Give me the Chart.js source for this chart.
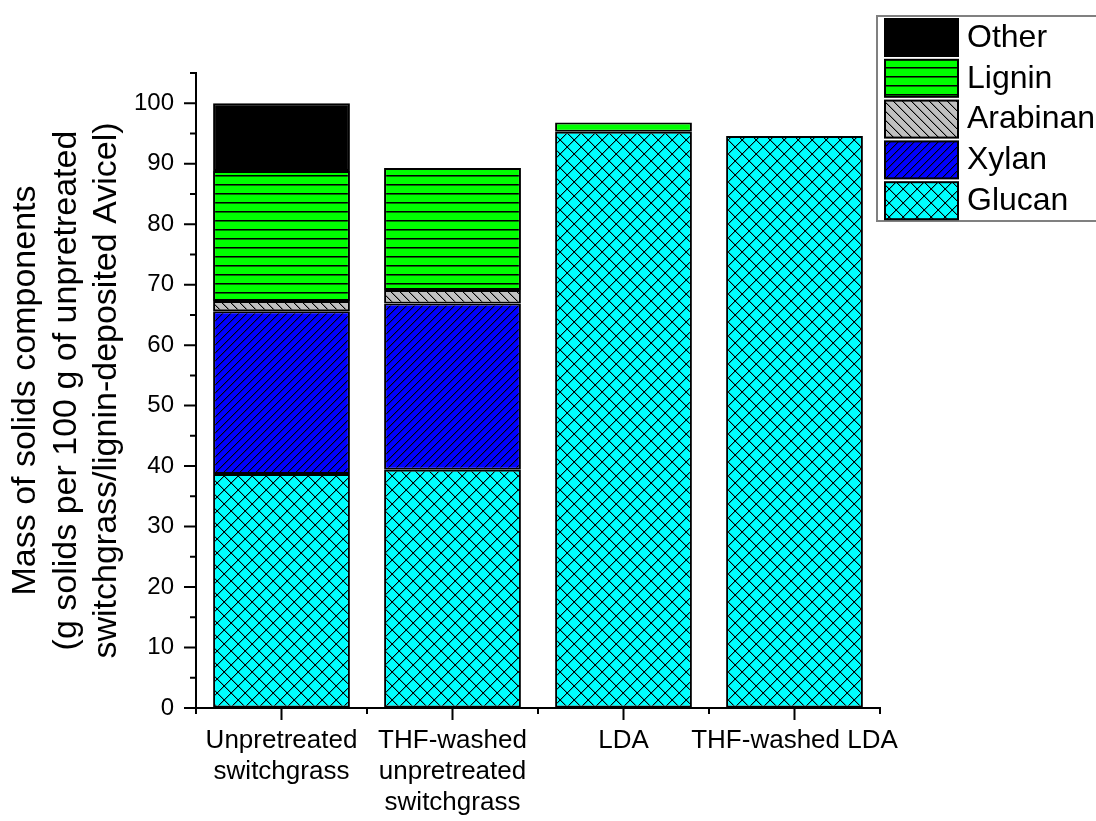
<!DOCTYPE html>
<html>
<head>
<meta charset="utf-8">
<script src="https://cdn.jsdelivr.net/npm/chart.js@4.4.1/dist/chart.umd.min.js"></script>
<style>
  html, body { margin: 0; padding: 0; background: #fff; }
  #wrap { width: 1096px; height: 821px; position: relative; }
</style>
</head>
<body>
<div id="wrap"><canvas id="grafiek"></canvas></div>
<script>
const categorieen = [['Unpretreated', 'switchgrass'], ['THF-washed', 'unpretreated', 'switchgrass'], 'LDA', 'THF-washed LDA'];
const glucan = [38.7, 39.4, 95.3, 94.6];
const xylan = [26.9, 27.5, null, null];
const arabinan = [1.7, 2.2, null, null];
const lignine = [21.5, 20.2, 1.5, null];
const overig = [11.2, null, null, null];
const yTicks = [0, 10, 20, 30, 40, 50, 60, 70, 80, 90, 100];
const yMinorTicks = [5, 15, 25, 35, 45, 55, 65, 75, 85, 95, 105];

const FONT = "'Liberation Sans', Arial, sans-serif";

// tegel met pixelscherpe lijnen
function arcering(kleur, maat, tekenLijnen) {
  const c = document.createElement('canvas');
  c.width = maat;
  c.height = maat;
  const g = c.getContext('2d');
  g.fillStyle = kleur;
  g.fillRect(0, 0, maat, maat);
  tekenLijnen(g, maat);
  return g.createPattern(c, 'repeat');
}

function schuinOmhoog(g, s) {
  for (let i = 0; i < s; i++) {
    g.fillStyle = 'rgba(0,0,0,0.3)';
    g.fillRect((i + 1) % s, s - 1 - i, 1, 1);
    g.fillStyle = '#000';
    g.fillRect(i, s - 1 - i, 1, 1);
  }
}

function schuinOmlaag(g, s) {
  for (let i = 0; i < s; i++) {
    g.fillStyle = 'rgba(0,0,0,0.3)';
    g.fillRect((i + 1) % s, i, 1, 1);
    g.fillStyle = '#000';
    g.fillRect(i, i, 1, 1);
  }
}

const patronen = {
  glucan: arcering('#00FFFF', 14, (g, s) => { schuinOmhoog(g, s); schuinOmlaag(g, s); }),
  xylan: arcering('#0000FF', 8, schuinOmhoog),
  arabinan: arcering('#C0C0C0', 9, schuinOmlaag),
  lignine: arcering('#00FF00', 9, (g, s) => {
    g.fillStyle = '#000';
    g.fillRect(0, 4, s, 1);
    g.fillStyle = '#007700';
    g.fillRect(0, 5, s, 1);
  }),
  overig: '#000000',
};

function reeks(label, waarden, vulling) {
  return {
    label,
    data: waarden,
    backgroundColor: vulling,
    borderColor: '#000',
    borderWidth: 2,
    borderSkipped: false,
    barPercentage: 0.8,
    categoryPercentage: 1.0,
  };
}

const assenPlugin = {
  id: 'assen',
  afterDraw(chart) {
    const ctx = chart.ctx;
    const { left, right, bottom } = chart.chartArea;
    const y = chart.scales.y;
    const x = chart.scales.x;
    ctx.save();
    ctx.strokeStyle = '#000';
    ctx.lineWidth = 2;
    ctx.beginPath();
    yTicks.forEach(v => {
      const py = y.getPixelForValue(v);
      ctx.moveTo(left - 12, py); ctx.lineTo(left, py);
    });
    yMinorTicks.forEach(v => {
      const py = y.getPixelForValue(v);
      ctx.moveTo(left - 6, py); ctx.lineTo(left, py);
    });
    categorieen.forEach((c, i) => {
      const px = x.getPixelForValue(i);
      ctx.moveTo(px, bottom); ctx.lineTo(px, bottom + 12);
    });
    const stap = (right - left) / categorieen.length;
    for (let i = 0; i <= categorieen.length; i++) {
      const px = left + stap * i;
      ctx.moveTo(px, bottom); ctx.lineTo(px, bottom + 6);
    }
    ctx.stroke();
    ctx.restore();
  },
};

const legendaPlugin = {
  id: 'legenda',
  afterDraw(chart) {
    const ctx = chart.ctx;
    ctx.save();
    ctx.strokeStyle = '#808080';
    ctx.lineWidth = 2;
    ctx.strokeRect(877, 16, 230, 205);
    const items = chart.data.datasets.slice().reverse();
    items.forEach((ds, i) => {
      const top = 19 + i * 40.8;
      ctx.fillStyle = ds.backgroundColor;
      ctx.fillRect(885, top, 73, 37);
      ctx.strokeStyle = '#000';
      ctx.lineWidth = 2;
      ctx.strokeRect(885, top, 73, 37);
      ctx.fillStyle = '#000';
      ctx.font = `32px ${FONT}`;
      ctx.textBaseline = 'middle';
      ctx.textAlign = 'left';
      ctx.fillText(ds.label, 967, top + 19);
    });
    ctx.restore();
  },
};

new Chart(document.getElementById('grafiek'), {
  type: 'bar',
  data: {
    labels: categorieen,
    datasets: [
      reeks('Glucan', glucan, patronen.glucan),
      reeks('Xylan', xylan, patronen.xylan),
      reeks('Arabinan', arabinan, patronen.arabinan),
      reeks('Lignin', lignine, patronen.lignine),
      reeks('Other', overig, patronen.overig),
    ],
  },
  options: {
    responsive: true,
    maintainAspectRatio: false,
    animation: false,
    layout: { padding: { top: 73, right: 216, left: 0, bottom: 0 } },
    plugins: {
      legend: { display: false },
      tooltip: { enabled: false },
    },
    scales: {
      x: {
        stacked: true,
        offset: true,
        grid: { display: true, drawOnChartArea: false, drawTicks: false },
        border: { display: true, color: '#000', width: 2 },
        ticks: {
          color: '#000',
          font: { family: FONT, size: 26, lineHeight: 1.2 },
          padding: 17,
          maxRotation: 0,
          autoSkip: false,
        },
        afterFit(scale) { scale.height = 113; },
      },
      y: {
        stacked: true,
        min: 0,
        max: 105,
        grid: { display: true, drawOnChartArea: false, drawTicks: false },
        border: { display: true, color: '#000', width: 2 },
        afterBuildTicks(scale) { scale.ticks = yTicks.map(v => ({ value: v })); },
        ticks: {
          color: '#000',
          font: { family: FONT, size: 24 },
          padding: 22,
        },
        title: {
          display: true,
          text: ['Mass of solids components', '(g solids per 100 g of unpretreated', 'switchgrass/lignin-deposited Avicel)'],
          color: '#000',
          font: { family: FONT, size: 34, lineHeight: 1.2 },
          padding: { top: 5, bottom: 0 },
        },
        afterFit(scale) { scale.width = 196; },
      },
    },
  },
  plugins: [assenPlugin, legendaPlugin],
});
</script>
</body>
</html>
